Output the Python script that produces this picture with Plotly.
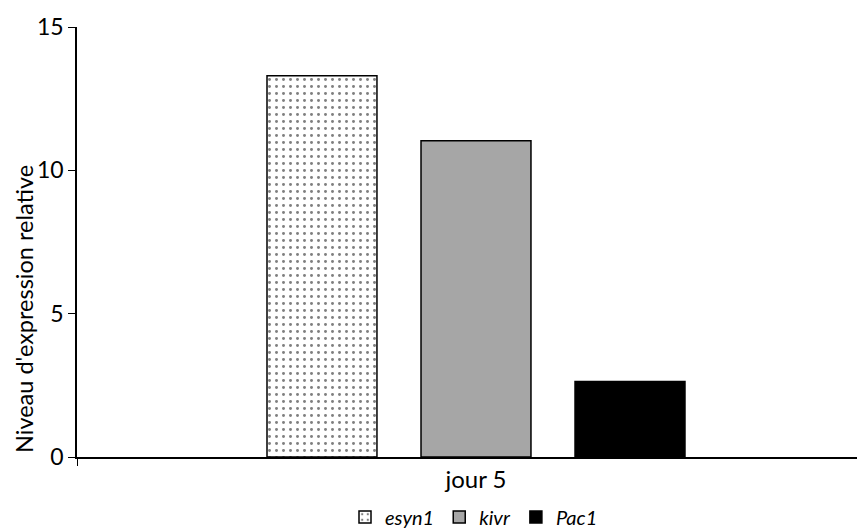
import plotly.graph_objects as go

categories = ["jour 5"]
genes = ["esyn1", "kivr", "Pac1"]
values = {"esyn1": [13.3], "kivr": [11.03], "Pac1": [2.63]}
y_ticks = [0, 5, 10, 15]

FONT = "Lato"
W, H = 857, 523  # page body has an 8px default margin
fig = go.Figure()
styles = {
    "esyn1": dict(color="white", pattern=dict(shape=".", fgcolor="black", bgcolor="white", size=7, solidity=0.14, fillmode="overlay")),
    "kivr": dict(color="#a6a6a6"),
    "Pac1": dict(color="#000000"),
}
for g in genes:
    st = styles[g]
    fig.add_trace(go.Bar(
        x=categories, y=values[g], name=f"<i>{g}</i>",
        marker=dict(color=st["color"], line=dict(color="black", width=1.5),
                    pattern=st.get("pattern")),
    ))

fig.update_layout(
    width=W, height=H,
    margin=dict(l=69, r=0, t=19, b=74, autoexpand=False),
    paper_bgcolor="white", plot_bgcolor="white",
    barmode="group", bargap=0.421, bargroupgap=0.286,
    font=dict(family=FONT, size=23, color="black"),
    showlegend=True,
    legend=dict(orientation="h", x=(474 - 8) / W, xanchor="center", xref="container",
                y=(H - (517 - 8)) / H, yanchor="middle", yref="container",
                font=dict(size=20), itemwidth=30, tracegroupgap=0),
    xaxis=dict(range=[-0.5, 0.4875], showline=True, linecolor="black", linewidth=1.5,
               ticks="outside", tickson="boundaries", ticklen=7, tickcolor="black",
               tickfont=dict(size=24), showgrid=False, zeroline=False, automargin=False),
    yaxis=dict(range=[0, 15], tickvals=y_ticks, showline=True, linecolor="black", linewidth=1.5,
               ticks="outside", ticklen=7, tickcolor="black", showgrid=False, zeroline=False,
               tickfont=dict(size=23), automargin=False),
)
fig.add_annotation(text="Niveau d'expression relative", textangle=-90, xref="paper", yref="paper",
                   x=(16 - 69) / 788, y=(19 + 430 - 301) / 430, xanchor="center", yanchor="middle",
                   showarrow=False, borderpad=0, font=dict(size=23.5))
fig.write_html("out.html")
